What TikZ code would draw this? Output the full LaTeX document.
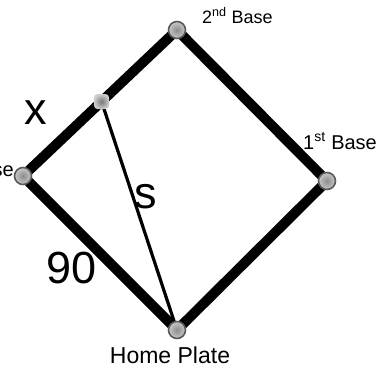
\documentclass[tikz,border=0pt]{standalone}
\usepackage{fontspec}
\setmainfont{Liberation Sans}
\usetikzlibrary{positioning,calc}
\definecolor{ringgray}{HTML}{5A5A5A}
\definecolor{dotgray}{HTML}{8C8C8C}
\definecolor{dotlight}{HTML}{C8C8C8}
\tikzset{
    every picture/.style={line cap=round,line join=round},
    basedot/.style={circle,draw=ringgray,line width=1.6pt,inner color=dotgray,
      outer color=dotlight,minimum size=17pt,inner sep=0pt},
    runnerdot/.style={rectangle,rounded corners=3.5pt,inner color=dotgray!85!black,
      outer color=dotlight!90,minimum size=15pt,inner sep=0pt},
    basepath/.style={line width=10pt,draw=black},
    sline/.style={line width=3.2pt,draw=black},
    baselabel/.style={inner sep=0pt,font=\fontsize{20}{24}\selectfont},
    biglabel/.style={inner sep=0pt,font=\fontsize{45}{50}\selectfont}
}
\begin{document}
\begin{tikzpicture}[x=1pt,y=-1pt]
  \useasboundingbox (0,0) rectangle (381,370);
  % the four bases
  \coordinate (home) at (177,330);
  \coordinate (first) at (327,181);
  \coordinate (second) at (177,30);
  \coordinate (third) at (23,176);
  \coordinate (runner) at ($(third)!0.51!(second)$);
  % diamond and the distance s
  \draw[basepath] (home) -- (first) -- (second) -- (third) -- cycle;
  \draw[sline] (runner) -- (home);
  \node[basedot] (homedot) at (home) {};
  \node[basedot] (firstdot) at (first) {};
  \node[basedot] (seconddot) at (second) {};
  \node[basedot] (thirddot) at (third) {};
  \node[runnerdot] (runnerdot) at (runner) {};
  % labels
  \node[baselabel,anchor=base west,font=\fontsize{18}{22}\selectfont] (secondlbl) at (202,23) {2\textsuperscript{nd} Base};
  \node[baselabel,anchor=base west] (firstlbl) at (303,149) {1\textsuperscript{st} Base};
  \node[baselabel,anchor=base east] (thirdlbl) at (14,176) {3\textsuperscript{rd} Base};
  \node[baselabel,anchor=base,font=\fontsize{23}{27}\selectfont] (homelbl) at (170,363) {Home Plate};
  \node[biglabel,anchor=base west] (xlbl) at (24,124) {x};
  \node[biglabel,anchor=base west] (slbl) at (134,208) {s};
  \node[biglabel,anchor=base west] (ninety) at (46,283) {90};
\end{tikzpicture}
\end{document}
